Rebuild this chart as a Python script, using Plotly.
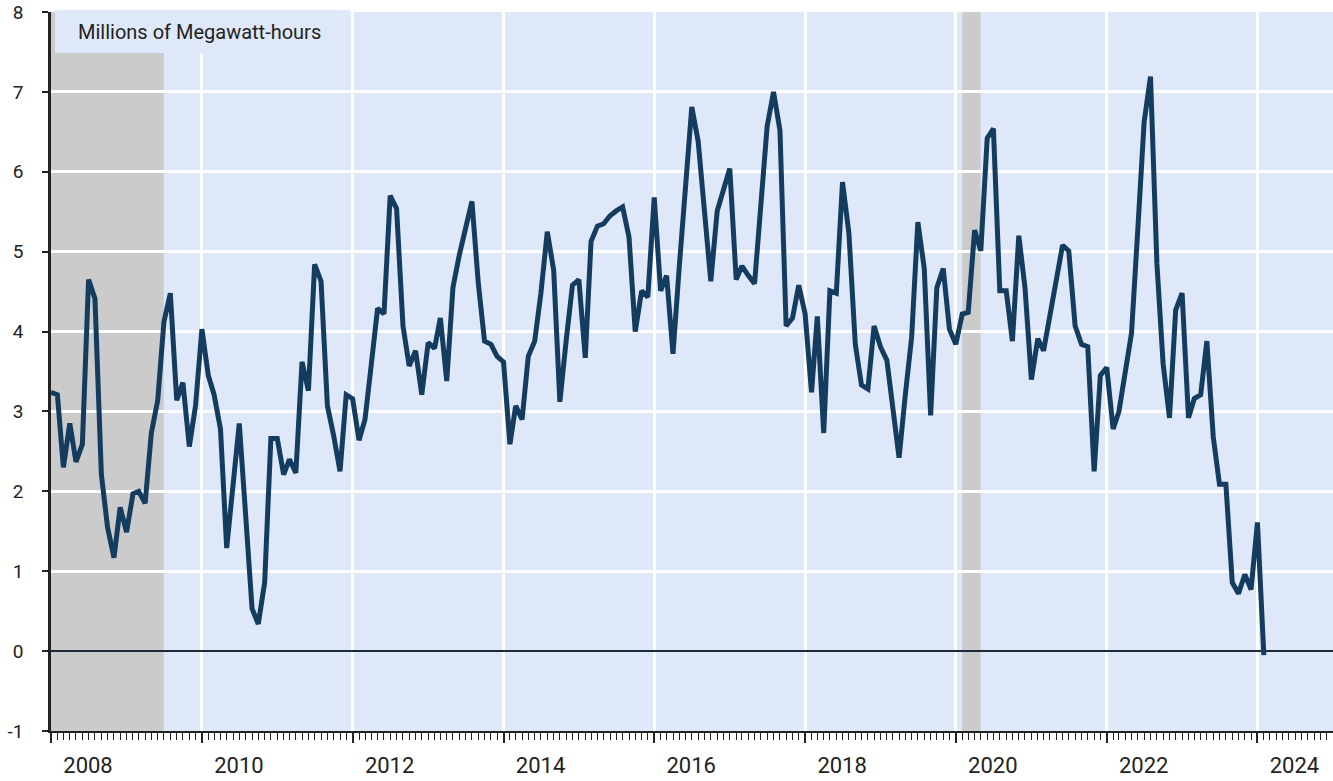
import pandas as pd
import plotly.graph_objects as go

# ---- data (millions of megawatt-hours, monthly from Jan 2008) ----
start_month = "2008-01-01"
values = [
    # 2008
    3.24, 3.21, 2.30, 2.85, 2.37, 2.59, 4.65, 4.41, 2.21, 1.55, 1.17, 1.80,
    # 2009
    1.49, 1.97, 2.00, 1.85, 2.73, 3.14, 4.12, 4.48, 3.14, 3.36, 2.56, 3.07,
    # 2010
    4.03, 3.45, 3.21, 2.78, 1.29, 2.10, 2.85, 1.70, 0.53, 0.34, 0.86, 2.66,
    # 2011
    2.66, 2.21, 2.40, 2.23, 3.62, 3.26, 4.84, 4.63, 3.07, 2.70, 2.25, 3.21,
    # 2012
    3.16, 2.64, 2.90, 3.60, 4.29, 4.22, 5.70, 5.54, 4.07, 3.57, 3.76, 3.21,
    # 2013
    3.86, 3.79, 4.17, 3.38, 4.55, 4.96, 5.30, 5.63, 4.60, 3.88, 3.84, 3.69,
    # 2014
    3.62, 2.59, 3.07, 2.90, 3.69, 3.88, 4.48, 5.25, 4.77, 3.12, 3.90, 4.58,
    # 2015
    4.65, 3.67, 5.13, 5.32, 5.35, 5.45, 5.51, 5.56, 5.18, 4.00, 4.51, 4.43,
    # 2016
    5.68, 4.51, 4.70, 3.72, 4.80, 5.90, 6.81, 6.38, 5.50, 4.63, 5.51, 5.80,
    # 2017
    6.04, 4.65, 4.82, 4.70, 4.60, 5.60, 6.57, 7.00, 6.52, 4.07, 4.17, 4.58,
    # 2018
    4.22, 3.24, 4.19, 2.73, 4.51, 4.48, 5.87, 5.23, 3.84, 3.33, 3.28, 4.07,
    # 2019
    3.81, 3.64, 3.00, 2.42, 3.20, 3.93, 5.37, 4.79, 2.95, 4.55, 4.79, 4.03,
    # 2020
    3.84, 4.22, 4.24, 5.27, 5.01, 6.42, 6.54, 4.51, 4.51, 3.88, 5.20, 4.55,
    # 2021
    3.40, 3.91, 3.76, 4.20, 4.65, 5.08, 5.01, 4.07, 3.84, 3.81, 2.25, 3.45,
    # 2022
    3.55, 2.78, 3.00, 3.50, 3.98, 5.30, 6.62, 7.19, 4.85, 3.60, 2.92, 4.27,
    # 2023
    4.48, 2.92, 3.16, 3.21, 3.88, 2.68, 2.09, 2.09, 0.86, 0.72, 0.96, 0.77,
    # 2024
    1.61, -0.05,
]
dates = pd.date_range(start_month, periods=len(values), freq="MS")

# recession periods (shaded)
rec_start = ["2008-01-01", "2020-02-01"]
rec_end = ["2009-06-30", "2020-04-30"]

# axis ticks
tick_years = ["2008", "2010", "2012", "2014", "2016", "2018", "2020", "2022", "2024"]
tick_dates = [y + "-01-01" for y in tick_years]
y_ticks = [-1, 0, 1, 2, 3, 4, 5, 6, 7, 8]
y_ticktext = ["-1", "0", "1", "2", "3", "4", "5", "6", "7", "8"]
unit_label = "Millions of Megawatt-hours"

# ---- styling ----
W, H = 1333, 781
ML, MR, MT, MB = 51, 0, 12, 50
PLOT_BG = "#dfe8f9"
GRID = "#ffffff"
LINE = "#143c5e"
AXIS = "#222222"
FONT = "Roboto"

fig = go.Figure()
fig.add_trace(go.Scatter(
    x=dates, y=values, mode="lines",
    line=dict(color=LINE, width=5),
    hoverinfo="x+y", showlegend=False,
))

shapes = []
for s, e in zip(rec_start, rec_end):
    shapes.append(dict(type="rect", xref="x", yref="paper", x0=s, x1=e, y0=0, y1=1,
                       fillcolor="#cbcbcb", line=dict(width=0), layer="below"))

pw = W - ML - MR
ph = H - MT - MB
def px_x(p):
    return (p - ML) / pw
def px_y(p):
    return 1 - (p - MT) / ph

# label box covering the top-left corner
shapes.append(dict(type="rect", xref="paper", yref="paper",
                   x0=px_x(55), x1=px_x(350), y0=px_y(53), y1=px_y(10),
                   fillcolor=PLOT_BG, line=dict(width=0), layer="above"))

fig.update_layout(
    width=W, height=H,
    margin=dict(l=ML, r=MR, t=MT, b=MB, pad=0, autoexpand=False),
    paper_bgcolor="white",
    plot_bgcolor=PLOT_BG,
    font=dict(family=FONT, color="#222222"),
    shapes=shapes,
    annotations=[dict(
        text=unit_label, xref="paper", yref="paper",
        x=px_x(76), y=px_y(32), xanchor="left", yanchor="middle",
        showarrow=False, font=dict(family=FONT, size=20, color="#222222"),
    )],
)

fig.update_xaxes(
    type="date", automargin=False,
    range=["2008-01-01", "2025-01-01"],
    tickmode="array", tickvals=tick_dates, ticktext=tick_years,
    ticklabelshift=37, ticklabelstandoff=4,
    ticks="outside", ticklen=10, tickwidth=1.5, tickcolor=AXIS,
    tickfont=dict(family=FONT, size=22, color="#222222"),
    showgrid=True, gridcolor=GRID, gridwidth=3,
    showline=True, linecolor=AXIS, linewidth=2,
    minor=dict(dtick="M1", tick0="2008-01-01", ticks="outside", ticklen=7,
               tickwidth=1, tickcolor=AXIS, showgrid=False),
    zeroline=False,
)

fig.update_yaxes(
    automargin=False,
    range=[-1, 8],
    tickmode="array", tickvals=y_ticks, ticktext=y_ticktext,
    ticks="outside", ticklen=6, tickwidth=2, tickcolor=AXIS,
    ticklabelstandoff=15,
    tickfont=dict(family=FONT, size=19, color="#222222"),
    showgrid=True, gridcolor=GRID, gridwidth=3,
    showline=True, linecolor=AXIS, linewidth=2.5,
    zeroline=True, zerolinecolor="#1c2b3a", zerolinewidth=2,
)

fig.write_html("out.html",
               config={"displayModeBar": False},
               post_script="document.body.style.margin='0';document.body.style.overflow='hidden';")
